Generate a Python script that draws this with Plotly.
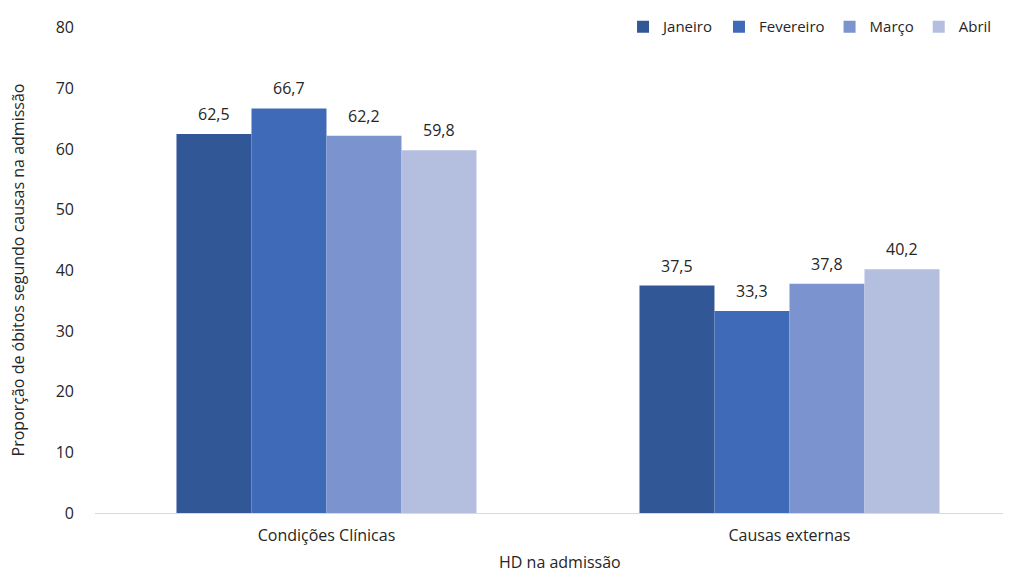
import plotly.graph_objects as go

categories = ["Condições Clínicas", "Causas externas"]
months = ["Janeiro", "Fevereiro", "Março", "Abril"]
values = {
    "Janeiro": [62.5, 37.5],
    "Fevereiro": [66.7, 33.3],
    "Março": [62.2, 37.8],
    "Abril": [59.8, 40.2],
}
colors = ["#325797", "#3f6ab8", "#7b93cf", "#b4bfe0"]
y_ticks = [0, 10, 20, 30, 40, 50, 60, 70, 80]

font_family = "Open Sans, sans-serif"
txt = "#262626"

# figure is drawn inside the page body (8px default margin), so size accounts for it
W, H = 1003, 566
ML, MR, MT, MB = 87, 3, 2, 61
plot_w = W - ML - MR
plot_h = H - MT - MB
x_range = [-0.5, 1.472]
y_range = [0, 82.1]
bargap = 0.352
px_per_cat = plot_w / (x_range[1] - x_range[0])
bar_px = px_per_cat * (1 - bargap) / len(months)

fig = go.Figure()
annotations = []
for i, (m, c) in enumerate(zip(months, colors)):
    vals = values[m]
    fig.add_trace(go.Bar(
        name=m, x=categories, y=vals, marker=dict(color=c, line=dict(width=0)),
    ))
    for cat, v in zip(categories, vals):
        annotations.append(dict(
            x=cat, y=v, xref="x", yref="y", text=f"{v:.1f}".replace(".", ","),
            showarrow=False, xanchor="center", yanchor="middle",
            xshift=(i - (len(months) - 1) / 2) * bar_px, yshift=20,
            font=dict(size=16, color=txt, family=font_family),
        ))

annotations += [
    dict(text="HD na admissão", xref="paper", yref="paper", x=(552 - ML) / plot_w, y=-49 / plot_h,
         xanchor="center", yanchor="middle", showarrow=False, font=dict(size=16, color=txt)),
    dict(text="Proporção de óbitos segundo causas na admissão", xref="paper", yref="paper",
         x=-(ML - 10) / plot_w, y=(plot_h - 260 + MT) / plot_h, xanchor="center", yanchor="middle",
         textangle=-90, showarrow=False, font=dict(size=16, color=txt)),
]

fig.update_layout(
    width=W, height=H,
    margin=dict(l=ML, r=MR, t=MT, b=MB),
    barmode="group", bargap=bargap, bargroupgap=0,
    plot_bgcolor="white", paper_bgcolor="white",
    font=dict(family=font_family, size=15, color=txt),
    legend=dict(orientation="h", x=0.988, xanchor="right", y=(plot_h - 14 + MT) / plot_h,
                yanchor="middle", font=dict(size=15, color=txt), traceorder="normal"),
    xaxis=dict(range=x_range, showgrid=False, showline=True, linecolor="#d9d9d9",
               ticks="", automargin=False, tickfont=dict(size=16), ticklabelstandoff=8),
    yaxis=dict(range=y_range, tickvals=y_ticks, showgrid=False, zeroline=False, showline=False,
               ticks="", automargin=False, tickfont=dict(size=16), ticklabelstandoff=20),
    annotations=annotations,
)
fig.write_html("out.html")
